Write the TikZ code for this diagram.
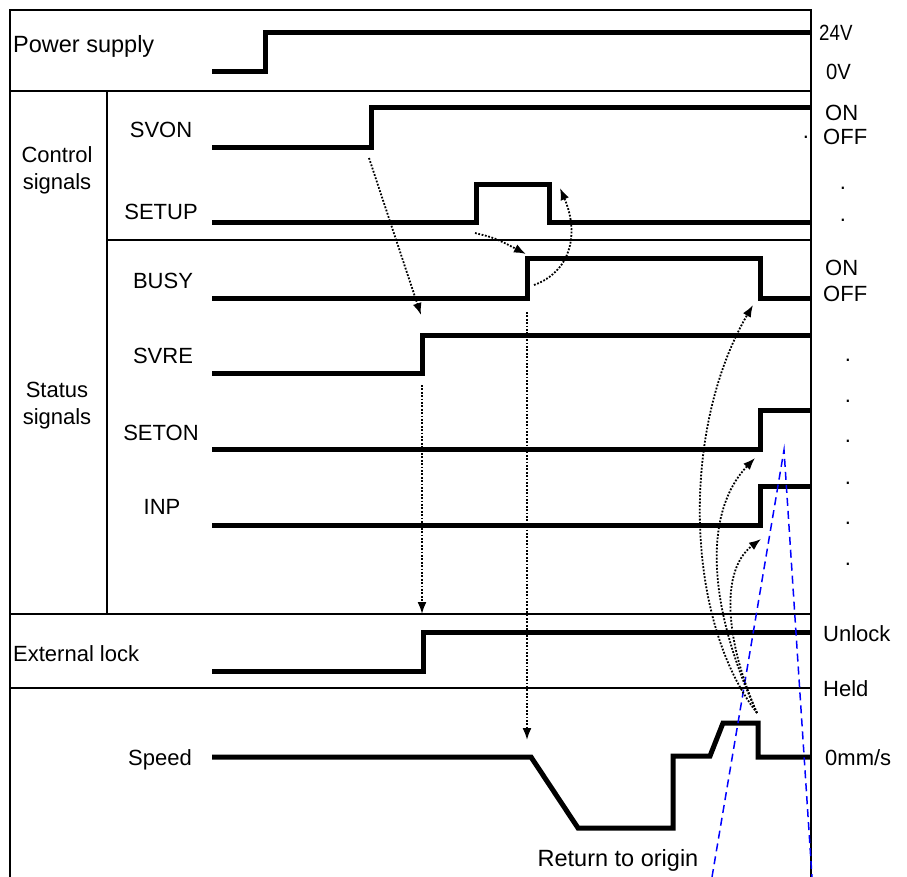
\documentclass[tikz,border=0pt]{standalone}
\usepackage{fontspec}
\setmainfont{Liberation Sans}
\usetikzlibrary{arrows.meta}
\begin{document}
\begin{tikzpicture}[x=1pt,y=-1pt,
  frame/.style={line width=1.8pt,black},
  sig/.style={line width=5pt,black,miter limit=10},
  lbl/.style={inner sep=0pt,font=\fontsize{22}{26}\selectfont},
  biglbl/.style={inner sep=0pt,font=\fontsize{23.5}{28}\selectfont},
  dep/.style={line width=1.8pt,dash pattern=on 1.8pt off 1.6pt,-{Latex[length=12pt,width=9pt]}},
  bluedash/.style={line width=1.5pt,blue,dash pattern=on 8pt off 5pt}]
\useasboundingbox (0,0) rectangle (907,877);
\fill[white] (0,0) rectangle (907,877);
% frame
\draw[frame] (10,877) -- (10,10) -- (811,10) -- (811,877);
\draw[frame] (10,91) -- (811,91);
\draw[frame] (107,91) -- (107,614);
\draw[frame] (107,240) -- (811,240);
\draw[frame] (10,614) -- (811,614);
\draw[frame] (10,688) -- (811,688);
% left labels
\node[biglbl,anchor=base west] (lpower) at (13,53) {Power supply};
\node[lbl,anchor=base] (lctrl1) at (57,163) {Control};
\node[lbl,anchor=base] (lctrl2) at (57,190) {signals};
\node[lbl,anchor=base] (lstat1) at (57,397) {Status};
\node[lbl,anchor=base] (lstat2) at (57,424) {signals};
\node[lbl,anchor=base] (lsvon) at (161,138) {SVON};
\node[lbl,anchor=base] (lsetup) at (161,220) {SETUP};
\node[lbl,anchor=base] (lbusy) at (163,288) {BUSY};
\node[lbl,anchor=base] (lsvre) at (163,363) {SVRE};
\node[lbl,anchor=base] (lseton) at (161,440) {SETON};
\node[lbl,anchor=base] (linp) at (162,514) {INP};
\node[lbl,anchor=base west] (lext) at (13,661) {External lock};
\node[lbl,anchor=base] (lspeed) at (160,765) {Speed};
\node[biglbl,anchor=base] (lret) at (618,866) {Return to origin};
% right labels
\node[lbl,anchor=base west] (r24) at (819,41) {\scalebox{0.85}[1]{24V}};
\node[lbl,anchor=base west] (r0) at (826,80) {\scalebox{0.92}[1]{0V}};
\node[lbl,anchor=base west] (ron1) at (825,121) {ON};
\node[lbl,anchor=base west] (roff1) at (823,145) {OFF};
\node[lbl,anchor=base west] (ron2) at (825,276) {ON};
\node[lbl,anchor=base west] (roff2) at (823,301) {OFF};
\node[lbl,anchor=base west] (runl) at (823,641) {Unlock};
\node[lbl,anchor=base west] (rheld) at (823,696) {Held};
\node[lbl,anchor=base west] (rspd) at (825,765) {0mm/s};
\node[lbl,anchor=base] (d0) at (806,139) {.};
\node[lbl,anchor=base] (d1) at (843,190) {.};
\node[lbl,anchor=base] (d2) at (843,222) {.};
\node[lbl,anchor=base] (d3) at (848,361) {.};
\node[lbl,anchor=base] (d4) at (848,402) {.};
\node[lbl,anchor=base] (d5) at (848,442) {.};
\node[lbl,anchor=base] (d6) at (848,484) {.};
\node[lbl,anchor=base] (d7) at (848,524) {.};
\node[lbl,anchor=base] (d8) at (848,565) {.};
% signals
\draw[sig] (212,72) -- (265,72) -- (265,33) -- (811,33);
\draw[sig] (212,148) -- (371,148) -- (371,108) -- (811,108);
\draw[sig] (212,223) -- (476,223) -- (476,185) -- (549,185) -- (549,223) -- (811,223);
\draw[sig] (212,298) -- (527,298) -- (527,259) -- (760,259) -- (760,298) -- (811,298);
\draw[sig] (212,373) -- (422,373) -- (422,335) -- (811,335);
\draw[sig] (212,449) -- (760,449) -- (760,410) -- (811,410);
\draw[sig] (212,525) -- (760,525) -- (760,486) -- (811,486);
\draw[sig] (212,671) -- (423,671) -- (423,632) -- (811,632);
\draw[sig] (212,757) -- (531,757) -- (578,828) -- (673,828) -- (673,756) -- (710,756)
  -- (723,723) -- (758,723) -- (758,757) -- (811,757);
% blue dashed
\coordinate (bl) at (712,877);
\coordinate (bt) at (784,450);
\coordinate (br) at (812,877);
\draw[bluedash] (bl) -- (bt) -- (br);
% dependency arrows
\coordinate (svonR) at (369,158);
\coordinate (svreT) at (421,315);
\coordinate (svreB) at (422,385);
\coordinate (extT) at (422,614);
\coordinate (setupR) at (475,233);
\coordinate (busyT) at (526,254);
\coordinate (busyS) at (534,285);
\coordinate (setupF) at (560,188);
\coordinate (busyB) at (527,312);
\coordinate (spdT) at (527,740);
\coordinate (pulse) at (757,713);
\coordinate (busyF) at (753,305);
\coordinate (setonR) at (755,458);
\coordinate (inpR) at (761,539);
\draw[dep] (svonR) -- (svreT);
\draw[dep] (svreB) -- (extT);
\draw[dep] (setupR) .. controls (495,238) .. (busyT);
\draw[dep] (busyS) .. controls (570,272) and (580,235) .. (setupF);
\draw[dep] (busyB) -- (spdT);
\draw[dep] (pulse) .. controls (685,620) and (680,430) .. (busyF);
\draw[dep] (pulse) .. controls (705,600) and (705,510) .. (setonR);
\draw[dep] (pulse) .. controls (725,640) and (720,570) .. (inpR);
\end{tikzpicture}
\end{document}
